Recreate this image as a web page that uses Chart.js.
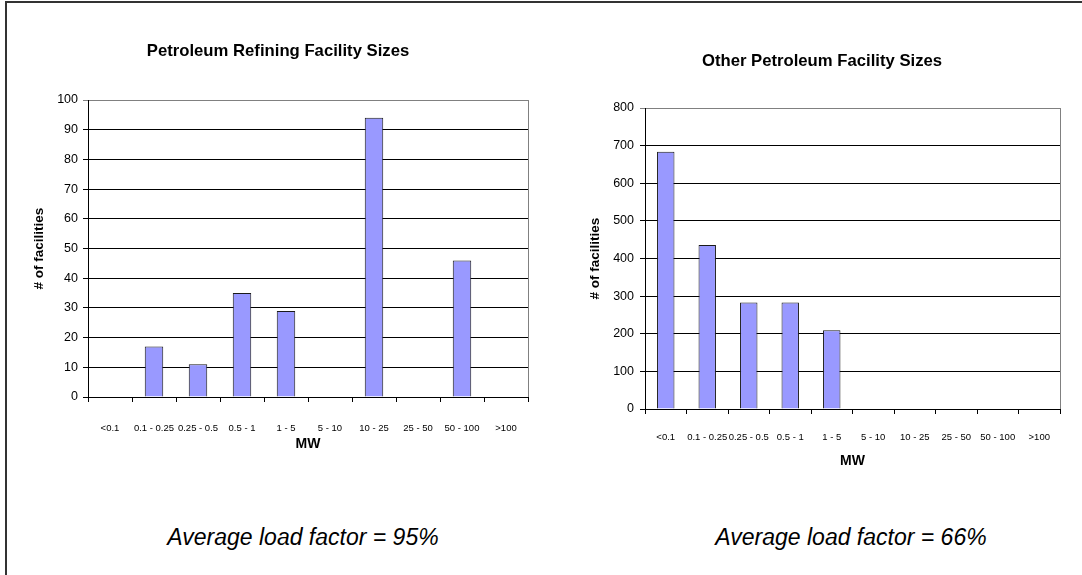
<!DOCTYPE html>
<html>
<head>
<meta charset="utf-8">
<script src="https://cdn.jsdelivr.net/npm/chart.js@4.4.0/dist/chart.umd.min.js"></script>
<style>
    html, body { margin: 0; padding: 0; background: #fff; }
    body { width: 1082px; height: 575px; position: relative; overflow: hidden; font-family: 'Liberation Sans', Arial, sans-serif; }
    .moldura { position: absolute; left: 5px; top: 1px; width: 1100px; height: 600px; border-left: 2px solid #333; border-top: 2px solid #333; }
    canvas { position: absolute; }
    #graficoRefino { left: 0; top: 0; }
    #graficoOutros { left: 540px; top: 0; }
    .nota { position: absolute; top: 524px; width: 400px; text-align: center; font-style: italic; font-size: 23px; color: #000; }
</style>
</head>
<body>
<div class="moldura"></div>
<canvas id="graficoRefino" width="540" height="470"></canvas>
<canvas id="graficoOutros" width="542" height="480"></canvas>
<div class="nota" style="left: 103px;">Average load factor = 95%</div>
<div class="nota" style="left: 651px;">Average load factor = 66%</div>

<script>
// faixas de potência (MW) e número de instalações
const faixasMW = ['<0.1', '0.1 - 0.25', '0.25 - 0.5', '0.5 - 1', '1 - 5', '5 - 10', '10 - 25', '25 - 50', '50 - 100', '>100'];
const refinoContagem = [0, 17, 11, 35, 29, 0, 94, 0, 46, 0];
const outrosContagem = [684, 436, 283, 283, 209, 0, 0, 0, 0, 0];

const refinoEixoY = { max: 100, passo: 10 };
const outrosEixoY = { max: 800, passo: 100 };

Chart.defaults.font.family = "'Liberation Sans', Arial, sans-serif";
Chart.defaults.color = '#000';

// borda cinza à direita da área do gráfico
const bordaArea = {
    id: 'bordaArea',
    afterDraw(chart) {
        const { ctx, chartArea: a } = chart;
        ctx.save();
        ctx.strokeStyle = '#808080';
        ctx.lineWidth = 1;
        ctx.beginPath();
        ctx.moveTo(Math.round(a.right) + 0.5, a.top);
        ctx.lineTo(Math.round(a.right) + 0.5, a.bottom);
        ctx.stroke();
        ctx.restore();
    }
};

function criarGrafico(id, titulo, dados, eixo, lay) {
    const ctx = document.getElementById(id);
    return new Chart(ctx, {
        type: 'bar',
        data: {
            labels: faixasMW,
            datasets: [{
                data: dados,
                backgroundColor: '#9999ff',
                borderColor: '#1a1a1a',
                borderWidth: 1,
                barPercentage: 0.42,
                categoryPercentage: 1
            }]
        },
        options: {
            responsive: false,
            animation: false,
            layout: { padding: { left: lay.esquerda, right: lay.direita, top: 0, bottom: 0 } },
            plugins: {
                legend: { display: false },
                tooltip: { enabled: false },
                title: {
                    display: true,
                    text: titulo,
                    font: { size: 16.7, weight: 'bold' },
                    color: '#000',
                    padding: { top: lay.tituloTopo, bottom: lay.tituloBase }
                }
            },
            scales: {
                x: {
                    afterFit: s => { s.height = lay.alturaX; },
                    grid: { display: true, drawOnChartArea: false, drawTicks: true, tickLength: 5, color: '#000', offset: true },
                    border: { color: '#000', width: 1 },
                    ticks: { font: { size: 9.5 }, color: '#000', padding: lay.padTickX, maxRotation: 0, autoSkip: false },
                    title: { display: true, text: 'MW', font: { size: 14, weight: 'bold' }, color: '#000', padding: { top: 0, bottom: lay.padMW } }
                },
                y: {
                    min: 0,
                    max: eixo.max,
                    afterFit: s => { s.width = lay.larguraY; },
                    grid: {
                        color: c => (c.tick && c.tick.value === eixo.max) ? '#808080' : '#000',
                        tickLength: 5,
                        lineWidth: 1
                    },
                    border: { color: '#000', width: 1 },
                    ticks: { stepSize: eixo.passo, font: { size: 12.5 }, color: '#000', padding: lay.padTickY },
                    title: { display: true, text: '# of facilities', font: { size: 13.5, weight: 'bold' }, color: '#000', padding: { top: lay.padTituloY, bottom: 0 } }
                }
            }
        },
        plugins: [bordaArea]
    });
}

document.addEventListener('DOMContentLoaded', function() {
    window.graficoRefino = criarGrafico('graficoRefino', 'Petroleum Refining Facility Sizes', refinoContagem, refinoEixoY, {
        esquerda: 28, direita: 12, tituloTopo: 41, tituloBase: 39, alturaX: 73, larguraY: 60,
        padTickX: 21, padMW: 17, padTickY: 5, padTituloY: 3
    });
    window.graficoOutros = criarGrafico('graficoOutros', 'Other Petroleum Facility Sizes', outrosContagem, outrosEixoY, {
        esquerda: 44, direita: 22, tituloTopo: 51, tituloBase: 37, alturaX: 71, larguraY: 61,
        padTickX: 18, padMW: 10, padTickY: 6, padTituloY: 3.5
    });
});
</script>
</body>
</html>
